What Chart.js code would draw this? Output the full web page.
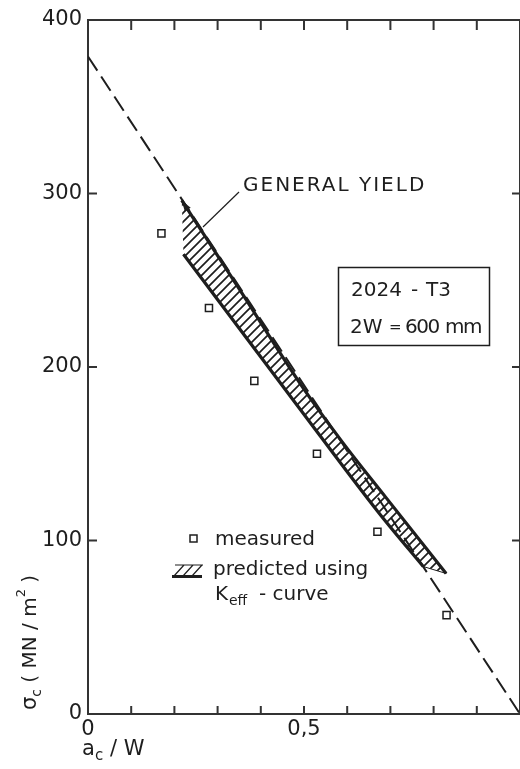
<!DOCTYPE html>
<html>
<head>
<meta charset="utf-8">
<script src="https://cdn.jsdelivr.net/npm/chart.js@4"></script>
<style>
  html, body { margin: 0; padding: 0; background: #fff; overflow: hidden; }
  canvas { display: block; }
</style>
</head>
<body>
<canvas id="chart" width="520" height="769"></canvas>
<script>
// measured residual strength
const measuredAW = [0.17, 0.28, 0.385, 0.53, 0.67, 0.83];
const measuredSigma = [277, 234, 192, 150, 105, 57];

// general yield line
const yieldAW = [0, 1.0];
const yieldSigma = [379, 0];

// predicted band (Keff - curve)
const upperAW = [0.217, 0.35, 0.495, 0.588, 0.689, 0.829];
const upperSigma = [296, 245, 189, 157, 125, 81];
const lowerAW = [0.221, 0.481, 0.673, 0.776];
const lowerSigma = [265, 179, 116, 85];

const xLabels = { 0: "0", 0.5: "0,5" };

const FONT = "'DejaVu Sans', sans-serif";
const INK = "#1e1e1e";

const pts = (xs, ys) => xs.map((x, i) => ({ x: x, y: ys[i] }));

function hatchPattern() {
    const n = 9;
    const c = document.createElement("canvas");
    c.width = n;
    c.height = n;
    const g = c.getContext("2d");
    g.strokeStyle = INK;
    g.lineWidth = 1.7;
    g.beginPath();
    g.moveTo(-1, n + 1); g.lineTo(n + 1, -1);
    g.moveTo(-3, 3); g.lineTo(3, -3);
    g.moveTo(n - 3, n + 3); g.lineTo(n + 3, n - 3);
    g.stroke();
    return g.createPattern(c, "repeat");
}

const bandShape = pts(upperAW, upperSigma).concat(pts(lowerAW, lowerSigma).reverse());

// inward ticks + top frame
const framePlugin = {
    id: "frame",
    afterDraw(chart) {
        const { ctx, chartArea: a, scales: { x, y } } = chart;
        ctx.save();
        ctx.strokeStyle = "#333";
        ctx.lineWidth = 2;
        ctx.beginPath();
        ctx.moveTo(a.left, a.top); ctx.lineTo(a.right, a.top);
        ctx.moveTo(a.right, a.top); ctx.lineTo(a.right, a.bottom);
        x.ticks.forEach(t => {
            if (t.value < 0.05 || t.value > 0.95) return;
            const px = x.getPixelForValue(t.value);
            ctx.moveTo(px, a.top); ctx.lineTo(px, a.top + 10);
            ctx.moveTo(px, a.bottom); ctx.lineTo(px, a.bottom - 8);
        });
        y.ticks.forEach(t => {
            if (t.value <= 0 || t.value >= 400) return;
            const py = y.getPixelForValue(t.value);
            ctx.moveTo(a.left, py); ctx.lineTo(a.left + 9, py);
            ctx.moveTo(a.right, py); ctx.lineTo(a.right - 8, py);
        });
        ctx.stroke();
        ctx.restore();
    }
};

// text annotations, legend, axis titles
const notesPlugin = {
    id: "notes",
    afterDraw(chart) {
        const { ctx, scales: { x, y } } = chart;
        ctx.save();
        ctx.fillStyle = INK;
        ctx.strokeStyle = INK;

        // arrow at start of upper curve
        const p0 = { x: x.getPixelForValue(upperAW[0]), y: y.getPixelForValue(upperSigma[0]) };
        const p1 = { x: x.getPixelForValue(upperAW[1]), y: y.getPixelForValue(upperSigma[1]) };
        const ang = Math.atan2(p0.y - p1.y, p0.x - p1.x);
        ctx.beginPath();
        ctx.moveTo(p0.x, p0.y);
        ctx.lineTo(p0.x - 11 * Math.cos(ang) + 3.5 * Math.sin(ang), p0.y - 11 * Math.sin(ang) - 3.5 * Math.cos(ang));
        ctx.lineTo(p0.x - 11 * Math.cos(ang) - 3.5 * Math.sin(ang), p0.y - 11 * Math.sin(ang) + 3.5 * Math.cos(ang));
        ctx.closePath();
        ctx.fill();

        // GENERAL YIELD label + leader
        ctx.lineWidth = 1.2;
        ctx.beginPath();
        ctx.moveTo(203, 227);
        ctx.lineTo(239, 192);
        ctx.stroke();
        ctx.font = "20px " + FONT;
        ctx.letterSpacing = "2px";
        ctx.textBaseline = "alphabetic";
        ctx.fillText("GENERAL YIELD", 243, 191);
        ctx.letterSpacing = "0px";

        // material box
        ctx.lineWidth = 1.5;
        ctx.strokeRect(338.5, 267.5, 151, 78);
        ctx.font = "20px " + FONT;
        ctx.fillText("2024", 351, 296);
        ctx.fillText("-", 411, 296);
        ctx.fillText("T3", 426, 296);
        ctx.fillText("2W", 350, 333);
        ctx.font = "15px " + FONT;
        ctx.fillText("=", 389, 332);
        ctx.font = "20px " + FONT;
        ctx.letterSpacing = "-1.5px";
        ctx.fillText("600", 405, 333);
        ctx.fillText("mm", 445, 333);
        ctx.letterSpacing = "0px";

        // legend
        ctx.lineWidth = 1.5;
        ctx.strokeRect(190, 535, 7, 7);
        ctx.font = "20px " + FONT;
        ctx.fillText("measured", 215, 545);
        ctx.fillText("predicted using", 213, 575);
        ctx.fillText("K", 215, 600);
        ctx.font = "14px " + FONT;
        ctx.fillText("eff", 229, 605);
        ctx.font = "20px " + FONT;
        ctx.fillText("- curve", 259, 600);
        // legend hatch symbol
        ctx.lineWidth = 1.2;
        ctx.beginPath();
        ctx.moveTo(175, 565); ctx.lineTo(203, 565);
        for (let i = 0; i < 3; i++) {
            const bx = 174 + i * 9;
            ctx.moveTo(bx, 576); ctx.lineTo(bx + 10, 565);
        }
        ctx.stroke();
        ctx.lineWidth = 3;
        ctx.beginPath();
        ctx.moveTo(172, 576.5); ctx.lineTo(202, 576.5);
        ctx.stroke();

        // x axis title: a_c / W
        ctx.font = "21px " + FONT;
        ctx.fillText("a", 82, 755);
        ctx.font = "15px " + FONT;
        ctx.fillText("c", 95, 760);
        ctx.font = "21px " + FONT;
        ctx.fillText("/ W", 110, 755);

        // y axis title: sigma_c ( MN / m^2 )
        ctx.translate(36, 710);
        ctx.rotate(-Math.PI / 2);
        let cx = 0;
        const part = (txt, size, dy) => {
            ctx.font = size + "px " + FONT;
            ctx.fillText(txt, cx, dy);
            cx += ctx.measureText(txt).width;
        };
        part("σ", 21, 0);
        part("c", 14, 5);
        part(" ( MN / m", 20, 0);
        part("2", 13, -11);
        part(" )", 20, 0);
        ctx.restore();
    }
};

const ctx = document.getElementById("chart").getContext("2d");

new Chart(ctx, {
    type: "line",
    data: {
        datasets: [
            {
                label: "measured",
                type: "scatter",
                data: pts(measuredAW, measuredSigma),
                pointStyle: "rect",
                pointRadius: 5,
                pointBorderWidth: 1.5,
                pointBorderColor: INK,
                pointBackgroundColor: "#fff",
                order: 0
            },
            {
                label: "general yield",
                data: pts(yieldAW, yieldSigma),
                borderColor: INK,
                borderWidth: 2,
                borderDash: [17, 7],
                pointRadius: 0,
                fill: false,
                order: 1
            },
            {
                label: "upper",
                data: pts(upperAW, upperSigma),
                borderColor: INK,
                borderWidth: 3.2,
                pointRadius: 0,
                cubicInterpolationMode: "monotone",
                fill: false,
                order: 2
            },
            {
                label: "lower",
                data: pts(lowerAW, lowerSigma),
                borderColor: INK,
                borderWidth: 3.2,
                pointRadius: 0,
                cubicInterpolationMode: "monotone",
                fill: false,
                order: 3
            },
            {
                label: "band",
                data: bandShape,
                borderWidth: 1,
                borderColor: INK,
                backgroundColor: hatchPattern(),
                pointRadius: 0,
                fill: "shape",
                order: 4
            }
        ]
    },
    options: {
        responsive: false,
        animation: false,
        devicePixelRatio: 1,
        layout: { autoPadding: false, padding: { top: 20, right: 0, left: 0, bottom: 0 } },
        plugins: {
            legend: { display: false },
            tooltip: { enabled: false }
        },
        scales: {
            x: {
                type: "linear",
                min: 0,
                max: 1,
                afterFit: s => { s.height = 55; s.paddingRight = 0; s.paddingLeft = 0; },
                ticks: {
                    stepSize: 0.1,
                    autoSkip: false,
                    maxRotation: 0,
                    padding: 3,
                    color: INK,
                    font: { family: FONT, size: 21 },
                    callback: v => {
                        const k = Math.round(v * 10) / 10;
                        return xLabels[k] !== undefined ? xLabels[k] : "";
                    }
                },
                grid: { drawOnChartArea: false, drawTicks: false },
                border: { display: true, color: "#333", width: 2 }
            },
            y: {
                type: "linear",
                min: 0,
                max: 400,
                afterFit: s => { s.width = 88; },
                ticks: {
                    stepSize: 100,
                    padding: 6,
                    color: INK,
                    font: { family: FONT, size: 21 }
                },
                grid: { drawOnChartArea: false, drawTicks: false },
                border: { display: true, color: "#333", width: 2 }
            }
        }
    },
    plugins: [framePlugin, notesPlugin]
});
</script>
</body>
</html>
